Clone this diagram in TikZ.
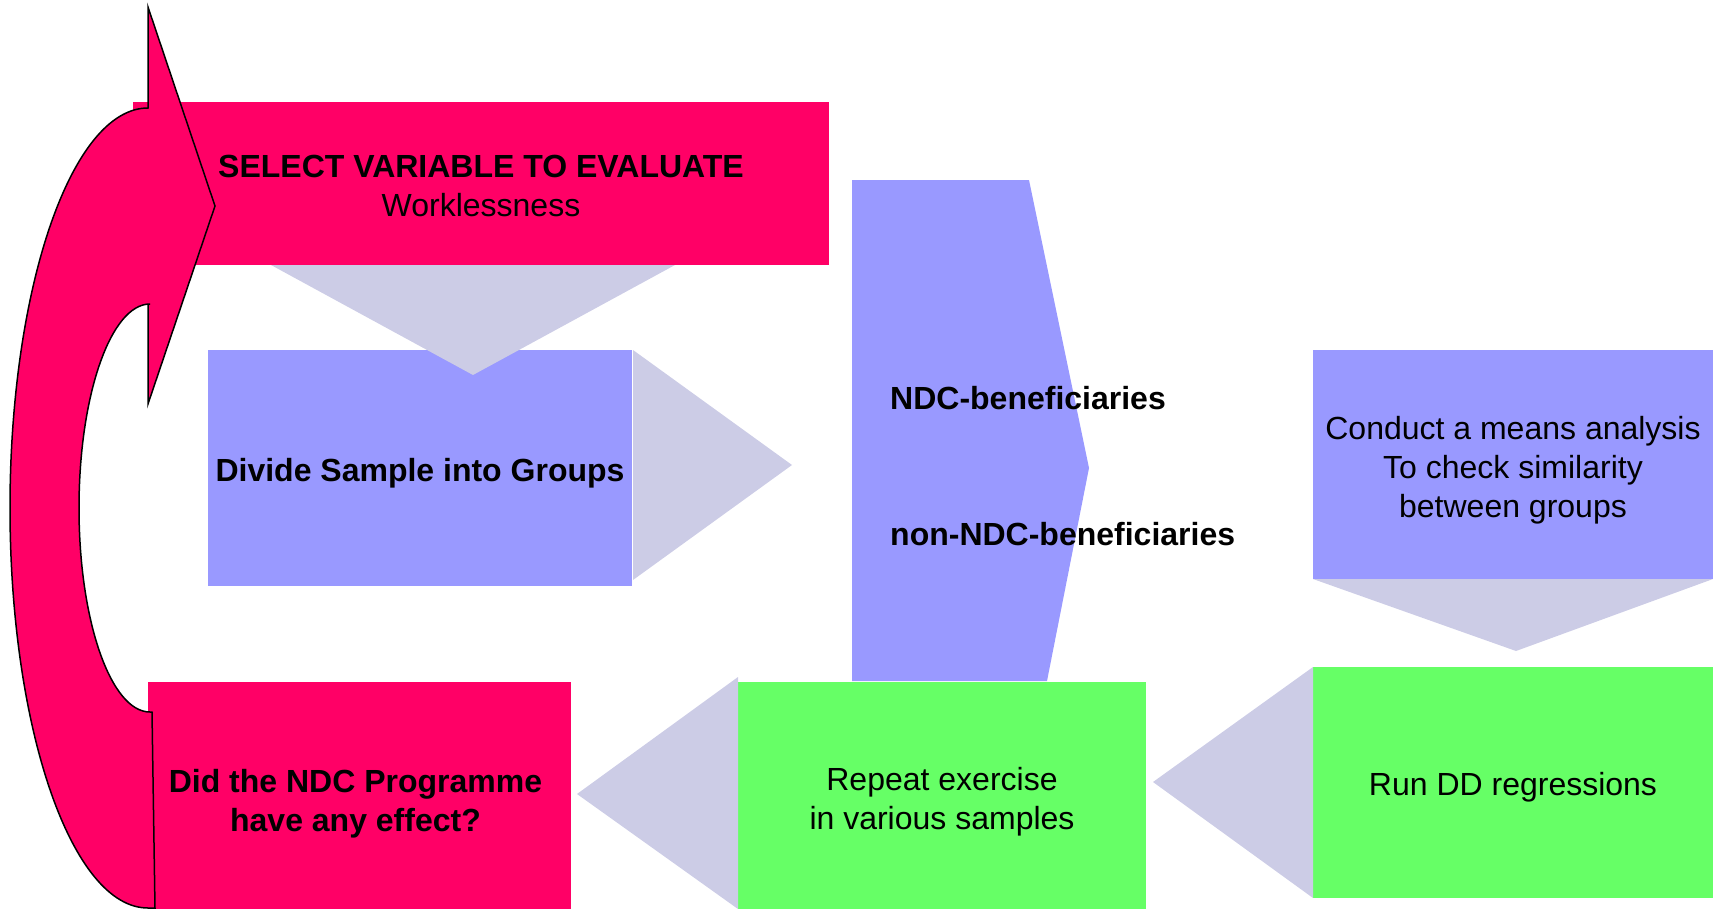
\documentclass[tikz,border=0pt]{standalone}
\usepackage{fontspec}
\setmainfont{Liberation Sans}
\usetikzlibrary{calc}
\definecolor{rd}{HTML}{FF0066}
\definecolor{bl}{HTML}{9999FF}
\definecolor{lav}{HTML}{CCCCE6}
\definecolor{gr}{HTML}{66FF66}
\begin{document}
\begin{tikzpicture}[x=1pt,y=-1pt,
  every node/.style={font=\fontsize{32}{39}\selectfont, align=center, inner sep=0pt},
  box/.style={rectangle, draw=none},
  flow/.style={fill=lav, draw=none},
  loop/.style={fill=rd, draw=black, line width=1.5pt, line join=miter}]
\useasboundingbox (0,0) rectangle (1713,910);
% top red box
\node[box, fill=rd, minimum width=696pt, minimum height=163pt] (sel) at (481,183.5) {};
\node (selt) at ($(sel.center)+(0,2)$) {\textbf{SELECT VARIABLE TO EVALUATE}\\Worklessness};
% divide box
\node[box, fill=bl, minimum width=424pt, minimum height=236pt] (div) at (420,468) {};
\node (divt) at ($(div.center)+(0,5)$) {\textbf{Divide Sample into Groups}};
% triangle down from top box
\fill[flow] (271,265) -- (675,265) -- (473,375) -- cycle;
% triangle right from divide box
\fill[flow] (633,350) -- (792,465) -- (633,580) -- cycle;
% pentagon of groups
\fill[bl] (852,180) -- (1029,180) -- (1089,468) -- (1047,681) -- (852,681) -- cycle;
\node[anchor=base west] (ndc) at (890,409) {\textbf{NDC-beneficiaries}};
\node[anchor=base west] (nonndc) at (890,545) {\textbf{non-NDC-beneficiaries}};
% conduct box
\node[box, fill=bl, minimum width=400pt, minimum height=229pt] (cond) at (1513,464.5) {};
\node (condt) at ($(cond.center)+(0,6)$) {Conduct a means analysis\\To check similarity\\between groups};
\fill[flow] (1313,579) -- (1713,579) -- (1516,651) -- cycle;
% run DD box
\node[box, fill=gr, minimum width=400pt, minimum height=231pt] (run) at (1513,782.5) {};
\node (runt) at ($(run.center)+(0,5)$) {Run DD regressions};
\fill[flow] (1313,667) -- (1153,782) -- (1313,898) -- cycle;
% repeat box
\node[box, fill=gr, minimum width=408pt, minimum height=227pt] (rep) at (942,795.5) {};
\node (rept) at ($(rep.center)+(0,6)$) {Repeat exercise\\in various samples};
\fill[flow] (738,677) -- (577,794) -- (738,909) -- cycle;
% did box
\node[box, fill=rd, minimum width=423pt, minimum height=227pt] (did) at (359.5,795.5) {};
\node (didt) at ($(did.center)+(-4,8)$) {\textbf{Did the NDC Programme}\\\textbf{have any effect?}};
% curved loop arrow
\draw[loop] (148,108) arc[start angle=90, end angle=270, x radius=138pt, y radius=400pt]
  -- (155,908) -- (152,712) -- (150,712)
  arc[start angle=270, end angle=90, x radius=71pt, y radius=204pt]
  -- (148,304) -- (148,404) -- (215,206) -- (148,7) -- cycle;
\end{tikzpicture}
\end{document}
